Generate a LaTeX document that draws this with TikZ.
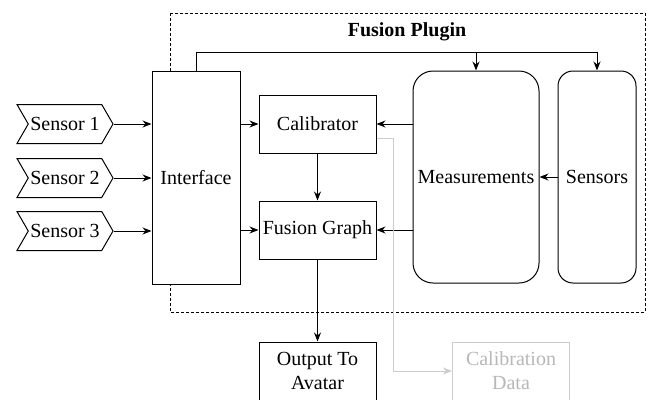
\documentclass[tikz,border=0pt]{standalone}
\usepackage{fontspec}
\setmainfont{Liberation Serif}
\usetikzlibrary{arrows.meta,shapes.symbols}
\begin{document}
\begin{tikzpicture}[x=1pt,y=-1pt,
  font=\fontsize{20}{24}\selectfont,
  line width=1pt,
  box/.style={draw,fill=white,minimum width=117pt,minimum height=58pt,inner sep=0pt,align=center},
  tall/.style={draw,fill=white,rounded corners=#1,minimum height=212pt,inner sep=0pt},
  sig/.style={draw,fill=white,shape=signal,signal from=west,signal to=east,
    signal pointer angle=120,minimum width=96pt,minimum height=39pt,inner sep=0pt},
  arr/.style={-{Stealth[length=9pt,width=7pt]}},
  faint/.style={draw=black!20,text=black!28}]
\useasboundingbox (0,0) rectangle (650,399);

% plugin frame
\draw[dash pattern=on 3pt off 2pt,line width=0.8pt] (170,13) rectangle (645,312);
\node[font=\fontsize{20}{24}\selectfont\bfseries] (title) at (407,32) {Fusion Plugin};

% input sensors
\node[sig] (s1) at (65,124) {Sensor 1};
\node[sig] (s2) at (65,178) {Sensor 2};
\node[sig] (s3) at (65,231) {Sensor 3};

% main blocks
\node[draw,fill=white,minimum width=88pt,minimum height=213pt,inner sep=0pt] (iface) at (196,177.5) {Interface};
\node[box] (calib) at (317.5,124) {Calibrator};
\node[box] (fgraph) at (317.5,230) {Fusion Graph};
\node[box] (out) at (317.5,371) {Output To\\Avatar};
\node[box,faint] (cdata) at (511,371) {Calibration\\Data};
\node[tall=20pt,minimum width=126pt] (meas) at (476,177) {Measurements};
\node[tall=15pt,minimum width=78pt] (sens) at (597,177) {Sensors};

% sensor inputs
\draw[arr] (s1.east) -- (s1.east -| iface.west);
\draw[arr] (s2.east) -- (s2.east -| iface.west);
\draw[arr] (s3.east) -- (s3.east -| iface.west);

% interface to processing
\draw[arr] (calib.west -| iface.east) -- (calib.west);
\draw[arr] (fgraph.west -| iface.east) -- (fgraph.west);
\coordinate (top) at (196,52);
\draw (iface.north) -- (top);
\draw[arr] (top) -| (meas.north);
\draw[arr] (top) -| (sens.north);

% measurements feed
\draw[arr] (sens.west) -- (meas.east);
\draw[arr] (calib.east -| meas.west) -- (calib.east);
\draw[arr] (fgraph.east -| meas.west) -- (fgraph.east);

% processing chain
\draw[arr] (calib.south) -- (fgraph.north);
\draw[arr] (fgraph.south) -- (out.north);

% calibration output
\coordinate (cout) at ([yshift=-14pt]calib.east);
\draw[arr,draw=black!20] (cout) -- ++(17,0) |- (cdata.west);
\end{tikzpicture}
\end{document}
